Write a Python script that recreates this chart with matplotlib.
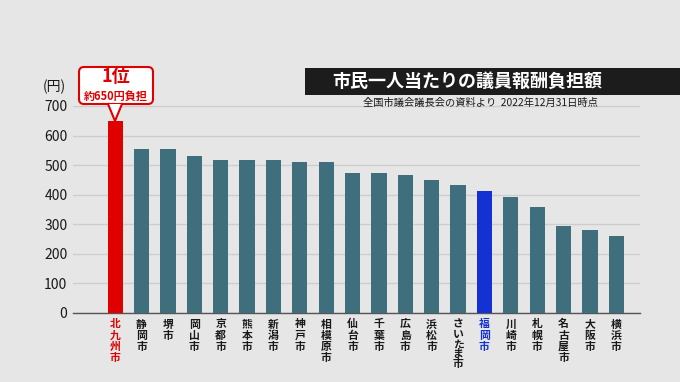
import matplotlib
matplotlib.use("Agg")
import matplotlib.pyplot as plt
from matplotlib.patches import FancyBboxPatch, Rectangle, Polygon
from matplotlib.transforms import IdentityTransform, offset_copy

plt.rcParams['font.family'] = ['Noto Sans CJK JP', 'DejaVu Sans']

# データ（市民一人当たりの議員報酬負担額, 円）
cities = ["北九州市", "静岡市", "堺市", "岡山市", "京都市", "熊本市", "新潟市",
          "神戸市", "相模原市", "仙台市", "千葉市", "広島市", "浜松市",
          "さいたま市", "福岡市", "川崎市", "札幌市", "名古屋市", "大阪市", "横浜市"]
values = [650, 556, 556, 530, 519, 519, 517, 509, 509, 474,
          472, 468, 449, 433, 413, 391, 357, 295, 280, 260]
yticks = [0, 100, 200, 300, 400, 500, 600, 700]

teal = "#3f6e7c"
red = "#e00000"
blue = "#1432d2"
bg = "#e6e6e6"

colors = [teal] * len(cities)
label_colors = ["#1a1a1a"] * len(cities)
colors[0] = red
label_colors[0] = red
colors[cities.index("福岡市")] = blue
label_colors[cities.index("福岡市")] = blue

W, H = 680, 382
fig = plt.figure(figsize=(W / 100, H / 100), dpi=100, facecolor=bg)
ax = fig.add_axes([73 / W, 1 - 313 / H, (640 - 73) / W, (313 - 106) / H])
ax.set_facecolor(bg)

x = list(range(len(cities)))
ax.bar(x, values, width=0.58, color=colors, zorder=3)
ax.set_xlim(-1.6, 19.9)
ax.set_ylim(0, 700)

ax.set_yticks(yticks)
ax.set_yticklabels([str(v) for v in yticks], fontsize=10, color="#1a1a1a")
ax.yaxis.grid(True, color="#cdcdcd", linewidth=1, zorder=0)
ax.tick_params(axis="both", length=0)
ax.tick_params(axis="y", pad=4)
ax.set_xticks([])

# 縦書きの市名（一文字ずつ配置）
for i, (name, c) in enumerate(zip(cities, label_colors)):
    y_off = 14.5
    for ch in name:
        tr = offset_copy(ax.get_xaxis_transform(), fig=fig, x=0, y=-y_off, units="dots")
        ax.text(i, 0, ch, transform=tr, fontsize=7.8, fontweight="bold", color=c,
                ha="center", va="baseline", clip_on=False)
        y_off += 10.0 if "\u3040" <= ch <= "\u309f" else 11.2

for s in ["top", "right", "left"]:
    ax.spines[s].set_visible(False)
ax.spines["bottom"].set_color("#555555")
ax.spines["bottom"].set_linewidth(1)

# 単位
fig.text(54 / W, 1 - 87 / H, "(円)", fontsize=10, ha="center", va="center", color="#1a1a1a")

# タイトル
ident = IdentityTransform()
fig.patches.append(Rectangle((305, H - 95), 380, 27, transform=ident,
                             facecolor="#1c1c1c", edgecolor="none"))
fig.text(332 / W, 1 - 81.5 / H, "市民一人当たりの議員報酬負担額", fontsize=13,
         fontweight="bold", color="white", ha="left", va="center")
fig.text(363 / W, 1 - 103 / H, "全国市議会議長会の資料より  2022年12月31日時点",
         fontsize=7.4, color="#1a1a1a", ha="left", va="center")

# 吹き出し
fig.patches.append(FancyBboxPatch((79, H - 104), 74, 37, transform=ident,
                                  boxstyle="round,pad=0,rounding_size=5",
                                  facecolor="white", edgecolor=red, linewidth=1.5))
fig.patches.append(Polygon([(108, H - 104), (122, H - 104), (115, H - 121)],
                           closed=True, transform=ident, facecolor="white",
                           edgecolor="none"))
fig.lines.append(plt.Line2D([108, 115, 122], [H - 104, H - 121, H - 104],
                            transform=ident, color=red, linewidth=1.5))
fig.text(116 / W, 1 - 77 / H, "1位", fontsize=13, fontweight="bold", color=red,
         ha="center", va="center")
fig.text(116 / W, 1 - 96 / H, "約650円負担", fontsize=8, fontweight="bold", color=red,
         ha="center", va="center")

fig.savefig("out.png", dpi=100, facecolor=bg)
